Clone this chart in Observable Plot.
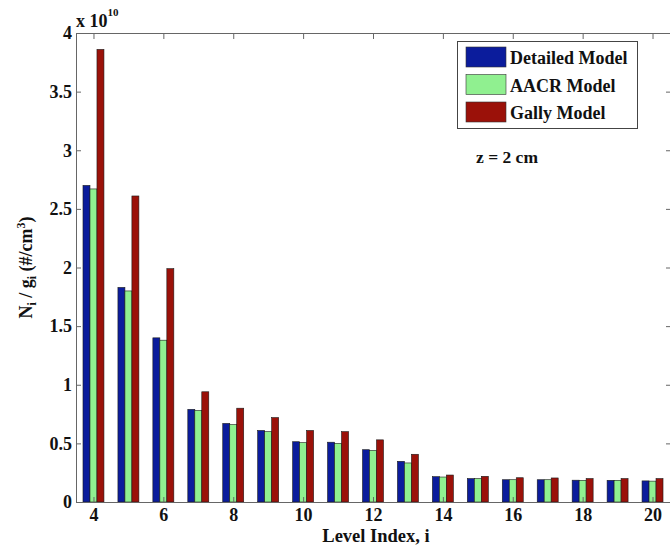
<!DOCTYPE html>
<html><head><meta charset="utf-8">
<script src="https://cdn.jsdelivr.net/npm/d3@7"></script>
<script src="https://cdn.jsdelivr.net/npm/@observablehq/plot@0.6"></script>
<style>body{margin:0;background:#fff} #chart{width:670px;height:554px;overflow:hidden}</style>
</head><body><div id="chart"></div>
<script>
const levels   = [4, 5, 6, 7, 8, 9, 10, 11, 12, 13, 14, 15, 16, 17, 18, 19, 20];
const detailed = [2.70, 1.83, 1.40, 0.79, 0.67, 0.61, 0.514, 0.51, 0.446, 0.347, 0.216, 0.200, 0.190, 0.190, 0.186, 0.185, 0.180];
const aacr     = [2.67, 1.80, 1.38, 0.78, 0.66, 0.60, 0.506, 0.50, 0.440, 0.333, 0.213, 0.200, 0.190, 0.190, 0.185, 0.185, 0.178];
const gally    = [3.86, 2.61, 1.99, 0.94, 0.80, 0.72, 0.610, 0.60, 0.530, 0.407, 0.230, 0.219, 0.207, 0.205, 0.200, 0.200, 0.200];
const seriesNames = ["Detailed Model", "AACR Model", "Gally Model"];
const seriesColors = ["#0b1c9c", "#90f090", "#9b1109"];
const xTicks = [4, 6, 8, 10, 12, 14, 16, 18, 20];
const yTicks = [0, 0.5, 1, 1.5, 2, 2.5, 3, 3.5, 4];

const allSeries = [detailed, aacr, gally];
const rows = [];
allSeries.forEach((vals, k) => {
  levels.forEach((lv, i) => rows.push({level: lv, k, series: seriesNames[k], value: vals[i]}));
});
const barW = 0.2;

const font = "'Liberation Serif', 'Times New Roman', serif";
const svg = Plot.plot({
  width: 670, height: 554,
  marginLeft: 76, marginRight: 0, marginTop: 33, marginBottom: 52,
  style: {fontFamily: font, fontWeight: "bold", fontSize: "18px", color: "#111", background: "#fff"},
  x: {type: "linear", domain: [3.5, 20.5]},
  y: {domain: [0, 4]},
  color: {domain: seriesNames, range: seriesColors},
  marks: [
    Plot.rectY(rows, {
      x1: d => d.level + (d.k - 1) * barW - barW / 2,
      x2: d => d.level + (d.k - 1) * barW + barW / 2,
      y1: 0, y2: "value", fill: "series", stroke: "#1a1a1a", strokeWidth: 0.6
    }),
    Plot.frame({stroke: "#666"}),
    Plot.axisY({ticks: yTicks, tickSize: -5, tickPadding: 9.5, tickFormat: d => String(d), label: null, stroke: "#666"}),
    Plot.axisY({anchor: "right", ticks: yTicks, tickSize: -5, tickFormat: () => "", label: null, stroke: "#666"}),
    Plot.axisX({ticks: xTicks, tickSize: -5, tickPadding: 11, tickFormat: d => String(d), label: null, stroke: "#666"}),
    Plot.axisX({anchor: "top", ticks: xTicks, tickSize: -5, tickFormat: () => "", label: null, stroke: "#666"})
  ]
});
document.getElementById("chart").appendChild(svg);

const s = d3.select(svg);
// exponent label
const ex = s.append("text").attr("x", 76).attr("y", 27).attr("text-anchor", "start")
  .attr("font-family", font).attr("font-weight", "bold").attr("font-size", 18).attr("fill", "#111");
ex.append("tspan").text("x 10");
ex.append("tspan").attr("font-size", 11).attr("dy", -11).text("10");

// y label
const yl = s.append("text").attr("transform", "translate(32,267.5) rotate(-90)")
  .attr("text-anchor", "middle").attr("font-family", font).attr("font-weight", "bold")
  .attr("font-size", 18).attr("fill", "#111");
yl.append("tspan").text("N");
yl.append("tspan").attr("font-size", 12).attr("dy", 4).text("i");
yl.append("tspan").attr("dy", -4).text(" / g");
yl.append("tspan").attr("font-size", 12).attr("dy", 4).text("i");
yl.append("tspan").attr("dy", -4).text(" (#/cm");
yl.append("tspan").attr("font-size", 12).attr("dy", -7).text("3");
yl.append("tspan").attr("dy", 7).text(")");

// x label
s.append("text").attr("x", 376).attr("y", 542).attr("text-anchor", "middle")
  .attr("font-family", font).attr("font-weight", "bold").attr("font-size", 18.5).attr("fill", "#111")
  .text("Level Index, i");

// legend
const lg = s.append("g").attr("text-anchor", "start");
lg.append("rect").attr("x", 457.5).attr("y", 41.5).attr("width", 180).attr("height", 87)
  .attr("fill", "#fff").attr("stroke", "#444");
seriesNames.forEach((name, k) => {
  const top = 47 + k * 27.5;
  lg.append("rect").attr("x", 466).attr("y", top).attr("width", 40).attr("height", 20)
    .attr("fill", seriesColors[k]).attr("stroke", "#333").attr("stroke-width", 0.6);
  lg.append("text").attr("x", 510).attr("y", top + 17).attr("text-anchor", "start").attr("font-family", font)
    .attr("font-weight", "bold").attr("font-size", 18).attr("fill", "#111").text(name);
});

// annotation
s.append("text").attr("x", 476).attr("y", 163).attr("text-anchor", "start").attr("font-family", font)
  .attr("font-weight", "bold").attr("font-size", 17.5).attr("fill", "#111").text("z = 2 cm");
</script>
</body></html>
